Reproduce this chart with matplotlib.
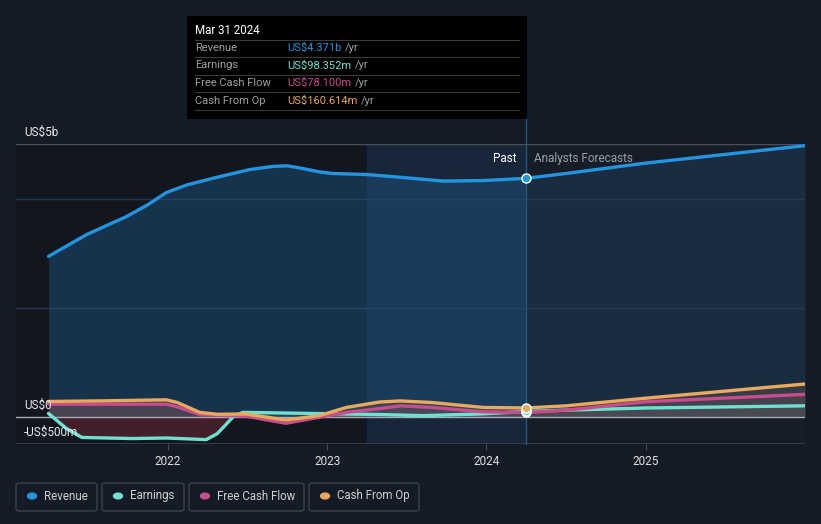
import matplotlib
matplotlib.use("Agg")
import matplotlib.pyplot as plt
from matplotlib.patches import Rectangle, FancyBboxPatch, Circle

plt.rcParams['font.family'] = ['Roboto', 'DejaVu Sans']

# history, fractional years -> US$ billions
t_rev = [2021.25, 2021.49, 2021.74, 2021.87, 2021.99, 2022.12, 2022.28, 2022.51,
         2022.66, 2022.75, 2022.83, 2022.95, 2023.03, 2023.25, 2023.46, 2023.73,
         2023.98, 2024.25]
revenue = [2.94, 3.34, 3.67, 3.88, 4.11, 4.25, 4.37, 4.53,
           4.59, 4.60, 4.56, 4.49, 4.46, 4.44, 4.39, 4.32,
           4.33, 4.371]

t_earn = [2021.25, 2021.36, 2021.46, 2021.78, 2021.99, 2022.24, 2022.31, 2022.41,
          2022.47, 2022.91, 2023.33, 2023.6, 2023.96, 2024.25]
earnings = [0.06, -0.21, -0.38, -0.40, -0.39, -0.42, -0.31, 0.0,
            0.08, 0.06, 0.04, 0.02, 0.05, 0.098]

t_cash = [2021.25, 2021.57, 2021.99, 2022.06, 2022.20, 2022.31, 2022.49, 2022.74,
          2022.95, 2023.12, 2023.33, 2023.46, 2023.66, 2023.98, 2024.25]
fcf = [0.23, 0.23, 0.23, 0.18, 0.04, 0.03, 0.01, -0.12,
       -0.01, 0.08, 0.15, 0.20, 0.17, 0.09, 0.078]
cfo = [0.28, 0.29, 0.31, 0.26, 0.08, 0.045, 0.05, -0.06,
       0.02, 0.17, 0.27, 0.29, 0.26, 0.17, 0.161]

# analyst forecasts
t_fc = [2024.25, 2024.5, 2025.0, 2026.0]
revenue_fc = [4.371, 4.46, 4.65, 4.97]
earnings_fc = [0.098, 0.12, 0.16, 0.20]
fcf_fc = [0.078, 0.12, 0.275, 0.41]
cfo_fc = [0.161, 0.20, 0.34, 0.60]

years = [2022, 2023, 2024, 2025]
C_REV, C_EARN, C_FCF, C_CFO = '#2394df', '#6ee2d1', '#c94c8b', '#e8aa5c'
BG = '#151b26'

W, H = 821, 524
fig = plt.figure(figsize=(W / 100, H / 100), dpi=100, facecolor=BG)


def fx(x):
    return x / W


def fy(y):
    return 1 - y / H


x0, x1 = 2021.046, 2026.0
ax = fig.add_axes([fx(16), fy(444), fx(805 - 16), fy(144) - fy(444)])
ax.set_facecolor('#161d29')
ax.set_xlim(x0, x1)
ax.set_ylim(-0.5, 5.0)
for s in ax.spines.values():
    s.set_visible(False)
ax.set_yticks([])
ax.set_xticks(years)
ax.tick_params(axis='x', length=4, color='#4a505a', labelcolor='#e0e0e0',
               labelsize=8.5, pad=4)
ax.set_xticklabels([str(y) for y in years])

# background bands
ax.axvspan(x0, 2023.25, color='#12171f', zorder=0)
ax.axvspan(2023.25, 2024.25, color='#172638', zorder=0)

# gridlines
for v in [4, 2]:
    ax.axhline(v, color='#27364a', lw=1, zorder=1)
ax.axhline(5.0, color='#4a505a', lw=1, zorder=1)
ax.axhline(-0.5, color='#3d434d', lw=1.2, zorder=1)

# full series (history + forecast)
t_rev_all = t_rev + t_fc[1:]
rev_all = revenue + revenue_fc[1:]
t_earn_all = t_earn + t_fc[1:]
earn_all = earnings + earnings_fc[1:]
t_cash_all = t_cash + t_fc[1:]
fcf_all = fcf + fcf_fc[1:]
cfo_all = cfo + cfo_fc[1:]

# revenue area
ax.fill_between(t_rev, revenue, 0, color='#1f5785', alpha=0.45, lw=0, zorder=2)
ax.fill_between(t_fc, revenue_fc, 0, color='#1e3f5e', alpha=0.45, lw=0, zorder=2)

# small series areas
ax.fill_between(t_cash_all, cfo_all, 0, color='#6a5a55', alpha=0.35, lw=0, zorder=3)
ax.fill_between(t_cash_all, fcf_all, 0, color='#6a4a5a', alpha=0.35, lw=0, zorder=3)
ax.fill_between(t_earn_all, earn_all, 0, where=[e < 0 for e in earn_all],
                interpolate=True, color='#5a2230', alpha=0.7, lw=0, zorder=3)
ax.fill_between(t_earn_all, earn_all, 0, where=[e >= 0 for e in earn_all],
                interpolate=True, color='#4a5a60', alpha=0.35, lw=0, zorder=3)

ax.axhline(0, color='#a8adb5', lw=1, zorder=4)

# lines
for tt, vv, col in [(t_earn_all, earn_all, C_EARN), (t_cash_all, fcf_all, C_FCF),
                    (t_cash_all, cfo_all, C_CFO), (t_rev_all, rev_all, C_REV)]:
    ax.plot(tt, vv, color=col, lw=2.4, zorder=5,
            solid_capstyle='round', solid_joinstyle='round')

# divider
ax.plot([2024.25, 2024.25], [-0.5, 5.46], color='#235a85', lw=0.9,
        clip_on=False, zorder=4)

# markers at last reported point
for v, col in [(fcf[-1], C_FCF), (earnings[-1], C_EARN),
               (cfo[-1], C_CFO), (revenue[-1], C_REV)]:
    ax.plot([2024.25], [v], 'o', ms=6.5, mfc=col, mec='white', mew=1, zorder=6)

ax.text(2024.25 - 0.06, 4.74, 'Past', color='white', fontsize=8.5,
        ha='right', va='center', zorder=7)
ax.text(2024.25 + 0.05, 4.74, 'Analysts Forecasts', color='#9aa0a8',
        fontsize=8.5, ha='left', va='center', zorder=7)

# y labels
fig.text(fx(24), fy(132), 'US$5b', color='#e8e8e8', fontsize=8.5, va='center')
fig.text(fx(24), fy(405), 'US$0', color='#e8e8e8', fontsize=8.5, va='center')
fig.text(fx(24), fy(432), '-US$500m', color='#e8e8e8', fontsize=8.5, va='center')

# tooltip
fig.patches.append(Rectangle((fx(187), fy(119)), fx(527 - 187), fy(16) - fy(119),
                             transform=fig.transFigure, facecolor='black',
                             edgecolor='none', zorder=10))
fig.text(fx(195), fy(31), 'Mar 31 2024', color='white', fontsize=8.3,
         va='center', zorder=11)
rows = [('Revenue', 'US$4.371b', C_REV), ('Earnings', 'US$98.352m', C_EARN),
        ('Free Cash Flow', 'US$78.100m', C_FCF), ('Cash From Op', 'US$160.614m', C_CFO)]
for i, (lab, val, col) in enumerate(rows):
    yy = 48 + i * 17.5
    fig.add_artist(plt.Line2D([fx(195), fx(519)], [fy(yy - 8.5), fy(yy - 8.5)],
                              transform=fig.transFigure, color='#3a3a3a', lw=0.8, zorder=11))
    fig.text(fx(195), fy(yy), lab, color='#a0a0a0', fontsize=8, va='center', zorder=11)
    t = fig.text(fx(287), fy(yy), val, color=col, fontsize=8, va='center', zorder=11)
    fig.canvas.draw()
    bb = t.get_window_extent()
    fig.text(bb.x1 / W + fx(4), fy(yy), '/yr', color='#a0a0a0', fontsize=8,
             va='center', zorder=11)
fig.add_artist(plt.Line2D([fx(195), fx(519)], [fy(110), fy(110)],
                          transform=fig.transFigure, color='#3a3a3a', lw=0.8, zorder=11))

# legend boxes
legend_items = [('Revenue', C_REV, 16, 97), ('Earnings', C_EARN, 102, 184),
                ('Free Cash Flow', C_FCF, 189, 304), ('Cash From Op', C_CFO, 309, 419)]
for lab, col, lx0, lx1 in legend_items:
    fig.patches.append(FancyBboxPatch((fx(lx0), fy(511)), fx(lx1 - lx0), fy(483) - fy(511),
                                      boxstyle='round,pad=0,rounding_size=0.004',
                                      transform=fig.transFigure, facecolor='none',
                                      edgecolor='#3c424c', lw=1))
    fig.patches.append(Circle((fx(lx0 + 16), fy(496)), 4.5 / W,
                              transform=fig.transFigure, color=col))
    fig.text(fx(lx0 + 28), fy(496), lab, color='#d0d0d0', fontsize=8.3, va='center')

fig.savefig('out.png', dpi=100, facecolor=BG)
